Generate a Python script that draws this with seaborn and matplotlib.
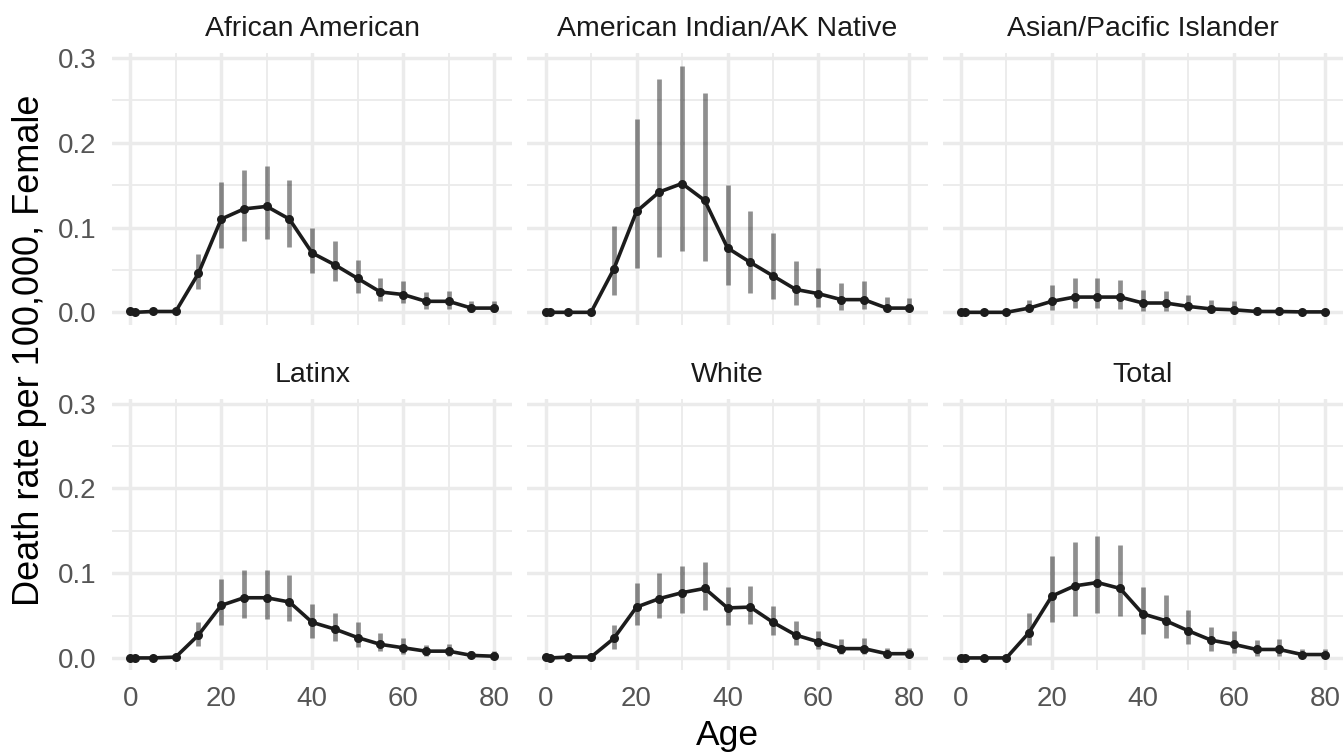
import numpy as np
import pandas as pd
import matplotlib.pyplot as plt
import seaborn as sns
from matplotlib.ticker import MultipleLocator

# ages at which rates were estimated
ages = [0, 1, 5, 10, 15, 20, 25, 30, 35, 40, 45, 50, 55, 60, 65, 70, 75, 80]
groups = ["African American", "American Indian/AK Native", "Asian/Pacific Islander",
          "Latinx", "White", "Total"]

# African American
aa_rate = [0.001, 0.0, 0.001, 0.001, 0.046, 0.110, 0.122, 0.125, 0.110, 0.070, 0.056, 0.040,
           0.024, 0.021, 0.013, 0.013, 0.005, 0.005]
aa_lo = [0.0, 0.0, 0.0, 0.0, 0.028, 0.076, 0.084, 0.087, 0.077, 0.046, 0.037, 0.023,
         0.013, 0.011, 0.004, 0.004, 0.0, 0.0]
aa_hi = [0.002, 0.001, 0.002, 0.002, 0.069, 0.154, 0.168, 0.173, 0.156, 0.100, 0.084, 0.062,
         0.041, 0.037, 0.024, 0.025, 0.013, 0.013]

# American Indian/AK Native
ai_rate = [0.0, 0.0, 0.0, 0.0, 0.051, 0.119, 0.142, 0.152, 0.132, 0.076, 0.059, 0.043,
           0.027, 0.022, 0.015, 0.015, 0.005, 0.005]
ai_lo = [0.0, 0.0, 0.0, 0.0, 0.020, 0.052, 0.065, 0.072, 0.061, 0.032, 0.023, 0.016,
         0.009, 0.006, 0.003, 0.004, 0.001, 0.001]
ai_hi = [0.001, 0.001, 0.001, 0.001, 0.102, 0.228, 0.275, 0.291, 0.259, 0.150, 0.120, 0.094,
         0.060, 0.052, 0.035, 0.037, 0.018, 0.017]

# Asian/Pacific Islander
ap_rate = [0.0, 0.0, 0.0, 0.0, 0.005, 0.013, 0.018, 0.018, 0.018, 0.011, 0.011, 0.007,
           0.004, 0.003, 0.001, 0.001, 0.0005, 0.0005]
ap_lo = [0.0, 0.0, 0.0, 0.0, 0.001, 0.003, 0.005, 0.005, 0.004, 0.002, 0.002, 0.001,
         0.0, 0.0, 0.0, 0.0, 0.0, 0.0]
ap_hi = [0.001, 0.001, 0.001, 0.001, 0.015, 0.032, 0.040, 0.040, 0.038, 0.026, 0.025, 0.020,
         0.015, 0.013, 0.006, 0.006, 0.003, 0.003]

# Latinx
lx_rate = [0.0, 0.0, 0.0, 0.001, 0.027, 0.062, 0.071, 0.071, 0.066, 0.042, 0.034, 0.024,
           0.016, 0.012, 0.008, 0.008, 0.003, 0.002]
lx_lo = [0.0, 0.0, 0.0, 0.0, 0.014, 0.039, 0.047, 0.046, 0.043, 0.024, 0.020, 0.013,
         0.008, 0.005, 0.002, 0.002, 0.0, 0.0]
lx_hi = [0.001, 0.001, 0.001, 0.002, 0.042, 0.093, 0.104, 0.104, 0.098, 0.064, 0.053, 0.042,
         0.030, 0.024, 0.015, 0.017, 0.008, 0.008]

# White
wh_rate = [0.001, 0.0, 0.001, 0.001, 0.023, 0.060, 0.070, 0.077, 0.082, 0.059, 0.060, 0.042,
           0.027, 0.019, 0.011, 0.011, 0.005, 0.005]
wh_lo = [0.0, 0.0, 0.0, 0.0, 0.011, 0.039, 0.047, 0.053, 0.057, 0.039, 0.040, 0.027,
         0.015, 0.011, 0.005, 0.005, 0.001, 0.001]
wh_hi = [0.002, 0.001, 0.002, 0.002, 0.039, 0.089, 0.100, 0.108, 0.113, 0.084, 0.085, 0.061,
         0.043, 0.032, 0.022, 0.023, 0.012, 0.012]

# Total
tt_rate = [0.0, 0.0, 0.0, 0.0, 0.030, 0.073, 0.085, 0.089, 0.082, 0.052, 0.044, 0.032,
           0.021, 0.016, 0.010, 0.010, 0.004, 0.004]
tt_lo = [0.0, 0.0, 0.0, 0.0, 0.015, 0.042, 0.049, 0.053, 0.049, 0.028, 0.024, 0.016,
         0.008, 0.006, 0.002, 0.002, 0.0, 0.0]
tt_hi = [0.001, 0.001, 0.001, 0.001, 0.053, 0.120, 0.137, 0.144, 0.133, 0.084, 0.074, 0.056,
         0.037, 0.032, 0.021, 0.022, 0.011, 0.011]

rates = [aa_rate, ai_rate, ap_rate, lx_rate, wh_rate, tt_rate]
lows = [aa_lo, ai_lo, ap_lo, lx_lo, wh_lo, tt_lo]
highs = [aa_hi, ai_hi, ap_hi, lx_hi, wh_hi, tt_hi]

frames = []
for grp, r, lo, hi in zip(groups, rates, lows, highs):
    frames.append(pd.DataFrame({"group": grp, "age": ages, "rate": r, "lo": lo, "hi": hi}))
df = pd.concat(frames, ignore_index=True)

sns.set_style("white")
plt.rcParams['font.family'] = ['Liberation Sans', 'DejaVu Sans']


def draw(data, **kws):
    ax = plt.gca()
    # interval bars go under the line
    ax.vlines(data["age"], data["lo"], data["hi"], color="black", alpha=0.44, lw=3.4, zorder=2)
    sns.lineplot(data=data, x="age", y="rate", ax=ax, color="#1c1c1c", lw=2.6,
                 marker="o", markersize=6.5, markeredgewidth=0, zorder=3)


g = sns.FacetGrid(df, col="group", col_wrap=3, col_order=groups, sharex=True, sharey=True)
g.map_dataframe(draw)
g.figure.set_size_inches(13.43, 7.54)
g.figure.subplots_adjust(left=0.0834, right=1.0, top=0.9297, bottom=0.111,
                         wspace=0.0375, hspace=0.272)

g.set_titles("{col_name}", size=20.5, color="#1A1A1A", pad=12)
g.set_axis_labels("", "")
g.set(xlim=(-4, 84), ylim=(-0.0146, 0.306))

for ax in g.axes.flat:
    ax.xaxis.set_major_locator(MultipleLocator(20))
    ax.xaxis.set_minor_locator(MultipleLocator(10))
    ax.yaxis.set_major_locator(MultipleLocator(0.1))
    ax.yaxis.set_minor_locator(MultipleLocator(0.05))
    ax.yaxis.set_major_formatter(plt.FuncFormatter(lambda v, p: f"{v:.1f}"))
    ax.grid(which="major", color="#EBEBEB", lw=2.5, zorder=0)
    ax.grid(which="minor", color="#EBEBEB", lw=1.3, zorder=0)
    ax.set_axisbelow(True)
    ax.tick_params(which="both", length=0, labelsize=20, labelcolor="#555555", pad=11)
    for s in ax.spines.values():
        s.set_visible(False)

g.figure.text(0.542, 0.025, "Age", ha="center", va="center", fontsize=25.5, color="black")
g.figure.text(0.022, 0.535, "Death rate per 100,000, Female", ha="center", va="center",
              rotation=90, fontsize=26, color="black")

g.figure.savefig("out.png", dpi=100)
